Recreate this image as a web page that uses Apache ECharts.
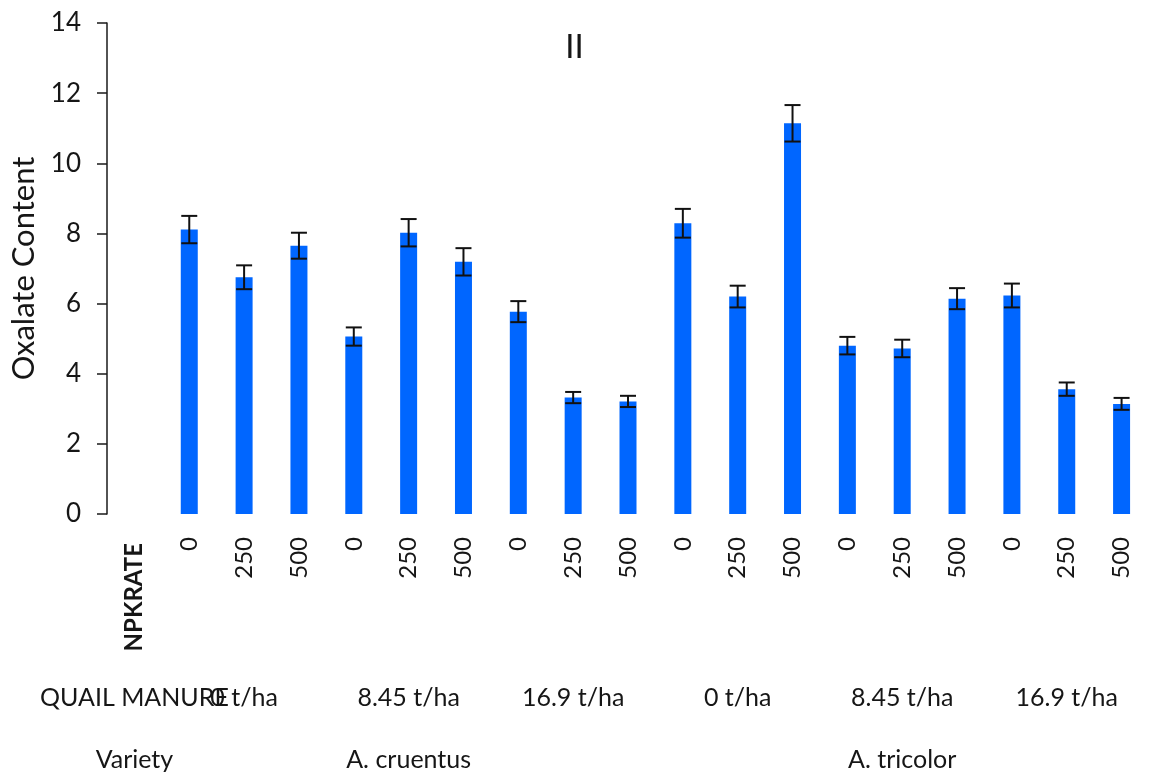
<!DOCTYPE html>
<html>
<head>
<meta charset="utf-8">
<script src="https://cdn.jsdelivr.net/npm/echarts@6/dist/echarts.min.js"></script>
<style>
  html, body { margin: 0; padding: 0; background: #fff; }
  #chart { width: 1149px; height: 774px; }
</style>
</head>
<body>
<div id="chart"></div>
<script>
// Treatment structure: variety > quail manure rate > NPK rate
const npkRates = ['0', '250', '500', '0', '250', '500', '0', '250', '500',
                  '0', '250', '500', '0', '250', '500', '0', '250', '500'];
const manureRates = ['0 t/ha', '8.45 t/ha', '16.9 t/ha', '0 t/ha', '8.45 t/ha', '16.9 t/ha'];
const varieties = ['A. cruentus', 'A. tricolor'];

// Oxalate content (mean) and its error per treatment
const oxalate  = [8.11, 6.75, 7.65, 5.06, 8.02, 7.19, 5.77, 3.32, 3.21,
                  8.29, 6.20, 11.14, 4.80, 4.72, 6.14, 6.23, 3.56, 3.14];
const errors   = [0.39, 0.34, 0.37, 0.26, 0.39, 0.39, 0.30, 0.16, 0.16,
                  0.41, 0.31, 0.52, 0.25, 0.25, 0.30, 0.34, 0.19, 0.17];

const rowHeaders = ['NPKRATE', 'QUAIL MANURE', 'Variety'];

// Slot 0 holds the row headers, slots 1..18 hold the treatments
const npkAxis = [rowHeaders[0]].concat(npkRates);
const manureAxis = npkAxis.map(() => '');
manureAxis[0] = rowHeaders[1];
manureRates.forEach((m, g) => { manureAxis[1 + g * 3 + 1] = m; });
const varietyAxis = npkAxis.map(() => '');
varietyAxis[0] = rowHeaders[2];
varieties.forEach((v, g) => { varietyAxis[1 + g * 9 + 4] = v; });

const barData = ['-'].concat(oxalate);
const errData = oxalate.map((v, i) => [i + 1, v - errors[i], v + errors[i]]);

const FONT = 'Lato';
const TXT = '#161616';

const chart = echarts.init(document.getElementById('chart'));
chart.setOption({
  animation: false,
  backgroundColor: '#ffffff',
  title: {
    text: 'II',
    left: 'center',
    top: 26,
    textStyle: { fontSize: 33, fontWeight: 'normal', fontFamily: FONT, color: TXT }
  },
  grid: { left: 107, right: -4, top: 23, bottom: 260, containLabel: false },
  xAxis: [
    {
      type: 'category',
      data: npkAxis,
      axisLine: { show: false },
      axisTick: { show: false },
      axisLabel: {
        interval: 0,
        rotate: 90,
        margin: 23,
        fontSize: 24,
        fontFamily: FONT,
        color: TXT,
        formatter: (v, i) => (i === 0 ? '{h|' + v + '}' : v),
        rich: { h: { fontSize: 24, fontWeight: 'bold', fontFamily: FONT, color: TXT, padding: [0, 6, 0, 0] } }
      }
    },
    {
      type: 'category',
      data: manureAxis,
      position: 'bottom',
      offset: 171,
      axisLine: { show: false },
      axisTick: { show: false },
      axisLabel: { interval: 0, margin: 0, fontSize: 25, fontFamily: FONT, color: TXT }
    },
    {
      type: 'category',
      data: varietyAxis,
      position: 'bottom',
      offset: 233,
      axisLine: { show: false },
      axisTick: { show: false },
      axisLabel: { interval: 0, margin: 0, fontSize: 25, fontFamily: FONT, color: TXT }
    }
  ],
  yAxis: {
    type: 'value',
    min: 0,
    max: 14,
    interval: 2,
    name: 'Oxalate Content',
    nameLocation: 'middle',
    nameGap: 66,
    nameTextStyle: { fontSize: 31, fontFamily: FONT, color: TXT },
    axisLine: { show: true, lineStyle: { color: '#1a1a1a', width: 1.5 } },
    axisTick: { show: true, inside: false, length: 10, lineStyle: { color: '#1a1a1a', width: 1.5 } },
    axisLabel: { margin: 26, fontSize: 26, fontFamily: FONT, color: TXT },
    splitLine: { show: false }
  },
  series: [
    {
      type: 'bar',
      xAxisIndex: 0,
      data: barData,
      barWidth: 17,
      itemStyle: { color: '#0066ff' }
    },
    {
      type: 'custom',
      xAxisIndex: 0,
      data: errData,
      encode: { x: 0, y: [1, 2] },
      z: 5,
      renderItem: (params, api) => {
        const x = api.value(0);
        const lo = api.coord([x, api.value(1)]);
        const hi = api.coord([x, api.value(2)]);
        const hw = 8;
        const style = { stroke: '#111', lineWidth: 2 };
        return {
          type: 'group',
          children: [
            { type: 'line', shape: { x1: hi[0], y1: hi[1], x2: lo[0], y2: lo[1] }, style },
            { type: 'line', shape: { x1: hi[0] - hw, y1: hi[1], x2: hi[0] + hw, y2: hi[1] }, style },
            { type: 'line', shape: { x1: lo[0] - hw, y1: lo[1], x2: lo[0] + hw, y2: lo[1] }, style }
          ]
        };
      }
    }
  ]
});
</script>
</body>
</html>
